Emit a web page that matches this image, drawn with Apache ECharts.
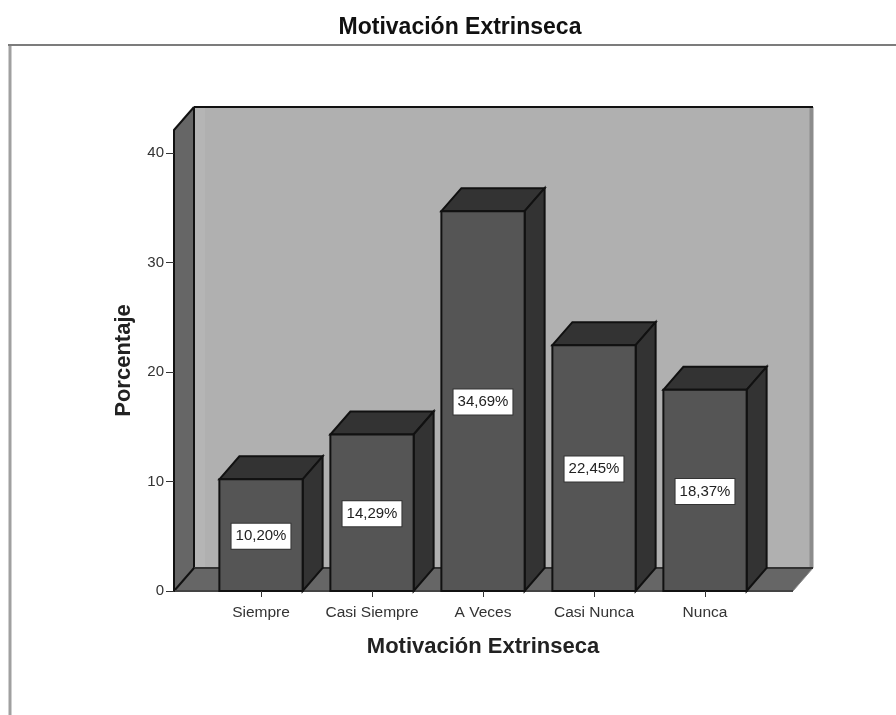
<!DOCTYPE html>
<html>
<head>
<meta charset="utf-8">
<style>
    html, body { margin: 0; padding: 0; background: #fff; }
    #chart { width: 896px; height: 715px; }
</style>
<script src="https://cdn.jsdelivr.net/npm/echarts@6/dist/echarts.min.js"></script>
</head>
<body>
<div id="chart"></div>
<script>
var categories = ['Siempre', 'Casi Siempre', 'A Veces', 'Casi Nunca', 'Nunca'];
var percentages = [10.20, 14.29, 34.69, 22.45, 18.37];
var yTicks = [0, 10, 20, 30, 40];
var titleText = 'Motivación Extrinseca';
var xName = 'Motivación Extrinseca';
var yName = 'Porcentaje';

var yMax = 42.1;
var depthX = 20;
var depthY = 23;
var wallLeft = 31.5;   // el piso sobresale del grid a cada lado
var wallRight = 32.5;
var lineColor = '#111';
var fontName = '"Liberation Sans", Arial, sans-serif';

function poly(points, fill, stroke, width) {
    return {
        type: 'polygon',
        shape: { points: points },
        style: { fill: fill, stroke: stroke || null, lineWidth: width || 0, lineJoin: 'miter' }
    };
}

function seg(x1, y1, x2, y2, color, width) {
    return {
        type: 'line',
        shape: { x1: x1, y1: y1, x2: x2, y2: y2 },
        style: { stroke: color, lineWidth: width }
    };
}

// paredes y piso
function renderWalls(params, api) {
    var cs = params.coordSys;
    var left = cs.x - wallLeft;
    var right = cs.x + cs.width + wallRight;
    var top = api.coord([0, yMax])[1];
    var bottom = api.coord([0, 0])[1];
    var backBottom = bottom - depthY;
    var backTop = top - depthY;
    return {
        type: 'group',
        children: [
            poly([[left + depthX, backTop], [right + depthX, backTop], [right + depthX, backBottom], [left + depthX, backBottom]], '#b0b0b0'),
            poly([[left + depthX, backTop], [left + depthX + 11, backTop], [left + depthX + 11, backBottom], [left + depthX, backBottom]], '#b5b5b5'),
            poly([[left, top], [left + depthX, backTop], [left + depthX, backBottom], [left, bottom]], '#666666'),
            poly([[left, bottom], [left + depthX, backBottom], [right + depthX, backBottom], [right, bottom]], '#666666'),
            seg(right + depthX - 1.5, backTop, right + depthX - 1.5, backBottom, '#8c8c8c', 4),
            seg(right + depthX, backBottom, right, bottom, '#8c8c8c', 1),
            seg(left, top, left + depthX, backTop, lineColor, 2),
            seg(left + depthX, backTop, right + depthX, backTop, lineColor, 2),
            seg(left + depthX, backTop, left + depthX, backBottom, lineColor, 2),
            seg(left + depthX, backBottom, right + depthX, backBottom, '#333', 2),
            seg(left, bottom, left + depthX, backBottom, lineColor, 2),
            seg(left, bottom, right, bottom, '#444', 2)
        ]
    };
}

// barra 3D
function renderBar(params, api) {
    var value = api.value(1);
    var center = api.coord([api.value(0), 0]);
    var topPt = api.coord([api.value(0), value]);
    var width = api.size([1, 0])[0] * 0.75;
    var x0 = center[0] - width / 2;
    var x1 = center[0] + width / 2;
    var y0 = topPt[1];
    var y1 = center[1];
    var mid = api.coord([api.value(0), value / 2]);
    return {
        type: 'group',
        children: [
            poly([[x0, y0], [x0 + depthX, y0 - depthY], [x1 + depthX, y0 - depthY], [x1, y0]], '#333333', lineColor, 2),
            poly([[x1, y0], [x1 + depthX, y0 - depthY], [x1 + depthX, y1 - depthY], [x1, y1]], '#333333', lineColor, 2),
            poly([[x0, y0], [x1, y0], [x1, y1], [x0, y1]], '#555555', lineColor, 2),
            {
                type: 'text',
                x: mid[0],
                y: mid[1] + 1,
                style: {
                    text: value.toFixed(2).replace('.', ',') + '%',
                    align: 'center',
                    verticalAlign: 'middle',
                    fill: '#222',
                    font: '15px ' + fontName,
                    backgroundColor: '#fff',
                    borderColor: '#333',
                    borderWidth: 1,
                    padding: [5, 4, 5, 4]
                }
            }
        ]
    };
}

var myChart = echarts.init(document.getElementById('chart'));

var option = {
    animation: false,
    backgroundColor: '#fff',
    title: {
        text: titleText,
        left: 455,
        top: 11,
        textAlign: 'center',
        textStyle: { color: '#111', fontSize: 23, fontWeight: 'bold', fontFamily: fontName }
    },
    grid: { left: 205.5, top: 130, width: 555, height: 461 },
    xAxis: {
        type: 'category',
        data: categories,
        name: xName,
        nameLocation: 'middle',
        nameGap: 45,
        nameTextStyle: { color: '#222', fontSize: 22, fontWeight: 'bold', fontFamily: fontName },
        axisLine: { show: false },
        axisTick: { show: true, alignWithLabel: true, length: 6, lineStyle: { color: '#333' } },
        axisLabel: { color: '#333', fontSize: 15.5, margin: 14, fontFamily: fontName, interval: 0 },
        z: 10
    },
    yAxis: {
        type: 'value',
        min: 0,
        max: yMax,
        offset: wallLeft,
        name: yName,
        nameLocation: 'middle',
        nameGap: 39,
        nameTextStyle: { color: '#222', fontSize: 22, fontWeight: 'bold', fontFamily: fontName },
        splitLine: { show: false },
        axisLine: { show: true, lineStyle: { color: lineColor, width: 2 } },
        axisTick: { show: true, length: 8, customValues: yTicks, lineStyle: { color: '#333' } },
        axisLabel: { color: '#333', fontSize: 15, margin: 10, padding: [4, 0, 0, 0], fontFamily: fontName, customValues: yTicks },
        z: 10
    },
    series: [
        {
            type: 'custom',
            silent: true,
            z: 1,
            data: [[0, 0]],
            renderItem: renderWalls
        },
        {
            type: 'custom',
            silent: true,
            z: 2,
            encode: { x: 0, y: 1 },
            data: percentages.map(function (v, i) { return [i, v]; }),
            renderItem: renderBar
        }
    ],
    graphic: [
        {
            type: 'line',
            shape: { x1: 10, y1: 44, x2: 10, y2: 715 },
            style: { stroke: '#a0a0a0', lineWidth: 3 },
            z: 0
        },
        {
            type: 'line',
            shape: { x1: 8, y1: 45, x2: 896, y2: 45 },
            style: { stroke: '#7c7c7c', lineWidth: 2 },
            z: 0
        }
    ]
};

myChart.setOption(option);
</script>
</body>
</html>
